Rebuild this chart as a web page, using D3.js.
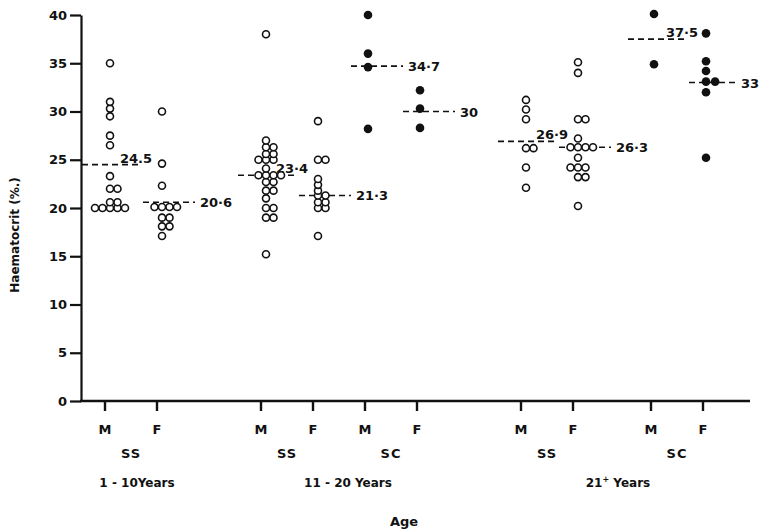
<!DOCTYPE html>
<html>
<head>
<meta charset="utf-8">
<script src="https://cdn.jsdelivr.net/npm/d3@7"></script>
<style>
  body { margin: 0; background: #fff; }
  text { font-family: "DejaVu Sans", sans-serif; font-weight: bold; fill: #111; }
</style>
</head>
<body>
<svg width="760" height="531"></svg>
<script>
// ---- data ----
const ageGroups = ["1 - 10Years", "11 - 20 Years", "21+ Years"];
const genotypes = ["SS", "SS", "SC", "SS", "SC"];
const genotypeAge = [0, 1, 1, 2, 2];
const sexes = ["M", "F"];

// haematocrit (%) per group, in order M / F for each genotype block
const ss1M = [35, 31, 30.3, 29.5, 27.5, 26.5, 23.3, 22, 22, 20.6, 20.6, 20, 20, 20, 20, 20];
const ss1F = [30, 24.6, 22.3, 20.1, 20.1, 20.1, 20.1, 19, 19, 18.1, 18.1, 17.1];
const ss2M = [38, 27, 26.3, 26.3, 25.6, 25.6, 25, 25, 25, 24.1, 23.4, 23.4, 23.4, 23.4, 22.7, 22.7, 21.8, 21.8, 21, 20, 20, 19, 19, 15.2];
const ss2F = [29, 25, 25, 23, 22.4, 21.8, 21.3, 21.3, 20.6, 20.6, 20, 20, 17.1];
const sc2M = [40, 36, 34.6, 28.2];
const sc2F = [32.2, 30.3, 28.3];
const ss3M = [31.2, 30.2, 29.2, 26.2, 26.2, 24.2, 22.1];
const ss3F = [35.1, 34, 29.2, 29.2, 27.2, 26.3, 26.3, 26.3, 26.3, 25.2, 24.2, 24.2, 24.2, 23.2, 23.2, 20.2];
const sc3M = [40.1, 34.9];
const sc3F = [38.1, 35.2, 34.2, 33.1, 33.1, 32, 25.2];

const groupValues = [ss1M, ss1F, ss2M, ss2F, sc2M, sc2F, ss3M, ss3F, sc3M, sc3F];
const means = [24.5, 20.6, 23.4, 21.3, 34.7, 30, 26.9, 26.3, 37.5, 33];
const meanLabels = ["24.5", "20·6", "23·4", "21·3", "34·7", "30", "26·9", "26·3", "37·5", "33"];
const yTicks = [0, 5, 10, 15, 20, 25, 30, 35, 40];

// ---- layout ----
const svg = d3.select("svg");
const slots = [0, 1, 3, 4, 5, 6, 8, 9, 10.5, 11.5]; // column order along the axis
const x = d3.scaleLinear().domain([0, 11.5]).range([105, 703]);
const y = d3.scaleLinear().domain([0, 40]).range([401, 15]);
const axisX = 81;

// y axis
const yAxis = svg.append("g")
    .attr("transform", `translate(${axisX},0)`)
    .call(d3.axisLeft(y).tickValues(yTicks).tickSize(11).tickSizeOuter(0).tickPadding(3));
yAxis.select(".domain").attr("stroke", "#111").attr("stroke-width", 2.2);
yAxis.selectAll(".tick line").attr("stroke", "#111").attr("stroke-width", 2.2);
yAxis.selectAll(".tick text").attr("font-size", 13).attr("font-family", "DejaVu Sans Condensed, DejaVu Sans").attr("font-weight", "bold");

// x axis line + ticks
svg.append("line")
    .attr("x1", axisX - 1).attr("x2", 750)
    .attr("y1", y(0)).attr("y2", y(0))
    .attr("stroke", "#111").attr("stroke-width", 2.4);

const cols = svg.append("g").selectAll("g")
    .data(groupValues.map((v, i) => ({ i, values: v, slot: slots[i], sex: sexes[i % 2] })))
    .join("g")
    .attr("transform", d => `translate(${x(d.slot)},0)`);

cols.append("line")
    .attr("y1", y(0)).attr("y2", y(0) + 10)
    .attr("stroke", "#111").attr("stroke-width", 2.4);
cols.append("text")
    .attr("y", y(0) + 33)
    .attr("text-anchor", "middle")
    .attr("font-size", 13)
    .text(d => d.sex);

// genotype labels
svg.append("g").selectAll("text")
    .data(genotypes)
    .join("text")
    .attr("x", (d, i) => (x(slots[2 * i]) + x(slots[2 * i + 1])) / 2)
    .attr("y", y(0) + 57)
    .attr("text-anchor", "middle")
    .attr("font-size", 13)
    .attr("letter-spacing", 1)
    .text(d => d);

// age group labels
const ageX = ageGroups.map((a, k) => {
    const idx = [];
    genotypeAge.forEach((g, gi) => { if (g === k) idx.push(2 * gi, 2 * gi + 1); });
    return d3.mean(d3.extent(idx.map(i => x(slots[i]))));
});
const ageText = svg.append("g").selectAll("text")
    .data(ageGroups)
    .join("text")
    .attr("x", (d, k) => ageX[k] + [6, 9, 6][k])
    .attr("y", y(0) + 86)
    .attr("text-anchor", "middle")
    .attr("font-size", 12)
    .attr("font-family", "DejaVu Sans Condensed, DejaVu Sans");
ageText.each(function (d) {
    const t = d3.select(this);
    if (d.startsWith("21+")) {
        t.append("tspan").text("21");
        t.append("tspan").attr("dy", -5).attr("font-size", 8).text("+");
        t.append("tspan").attr("dy", 5).text(" Years");
    } else {
        t.text(d);
    }
});

svg.append("text")
    .attr("x", 404).attr("y", 526)
    .attr("text-anchor", "middle")
    .attr("font-size", 13)
    .text("Age");

svg.append("text")
    .attr("transform", `translate(19,235) rotate(-90)`)
    .attr("text-anchor", "middle")
    .attr("font-size", 12)
    .attr("font-family", "DejaVu Sans Condensed, DejaVu Sans")
    .text("Haematocrit (%.)");

// dodge points so (nearly) equal values sit side by side
function dodge(values, r) {
    const step = 2 * r + 0.5;
    const placed = [];
    values.slice().sort((a, b) => a - b).forEach(v => {
        const py = y(v);
        for (let k = 0; k < 20; k++) {
            const off = k === 0 ? 0 : (k % 2 ? Math.ceil(k / 2) : -k / 2) * step;
            const clash = placed.some(p => Math.abs(p.y - py) < r * 1.3 && Math.abs(p.dx - off) < step - 0.3);
            if (!clash) {
                placed.push({ dx: off, y: py, v });
                break;
            }
        }
    });
    return placed;
}

// mean lines
const aboveLabel = [true, false, true, false, false, false, true, false, true, false];
cols.each(function (d) {
    const g = d3.select(this);
    const above = aboveLabel[d.i];
    const last = d.i === groupValues.length - 1;
    const my = y(means[d.i]);
    const x1 = above ? -23 : -14;
    const x2 = above ? 36 : (last ? 34 : 38);
    g.append("line")
        .attr("x1", x1).attr("x2", x2)
        .attr("y1", my).attr("y2", my)
        .attr("stroke", "#111").attr("stroke-width", 1.6)
        .attr("stroke-dasharray", "6,4");
    g.append("text")
        .attr("x", above ? 15 : (last ? 38 : 43))
        .attr("y", above ? my - 2 : my + 5)
        .attr("font-size", 13)
        .attr("font-family", "DejaVu Sans Condensed, DejaVu Sans")
        .text(meanLabels[d.i]);
});

// points: SS open circles, SC filled dots
cols.each(function (d) {
    const g = d3.select(this);
    const sc = genotypes[Math.floor(d.i / 2)] === "SC";
    const r = sc ? 4.3 : 3.5;
    g.append("g").selectAll("circle")
        .data(dodge(d.values, r))
        .join("circle")
        .attr("cx", p => p.dx + (sc ? 3 : 5))
        .attr("cy", p => p.y)
        .attr("r", r)
        .attr("fill", sc ? "#111" : "#fff")
        .attr("stroke", "#111")
        .attr("stroke-width", sc ? 0 : 1.6);
});
</script>
</body>
</html>
